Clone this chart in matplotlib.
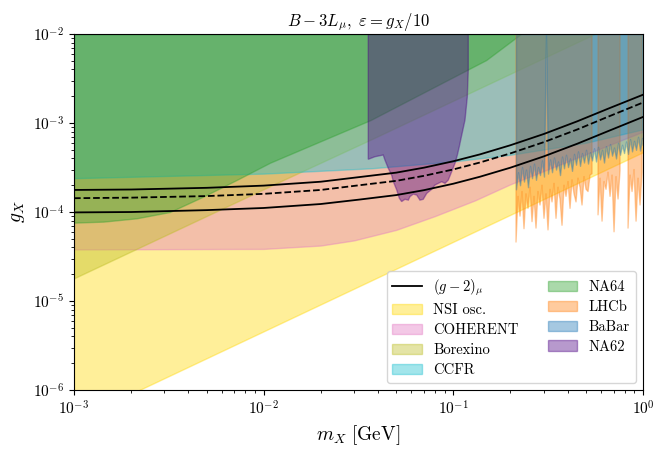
import numpy as np
import matplotlib
matplotlib.use('Agg')
import matplotlib.pyplot as plt
from matplotlib import ticker

plt.rcParams['mathtext.fontset'] = 'cm'
plt.rcParams['font.family'] = 'serif'
plt.rcParams['font.serif'] = ['cmr10', 'DejaVu Serif']
plt.rcParams['axes.formatter.use_mathtext'] = True

# (g-2)_mu preferred band
gm2_m = [1e-3, 2e-3, 5e-3, 0.01, 0.02, 0.032, 0.05, 0.07, 0.1, 0.138, 0.2, 0.3, 0.45, 0.65, 1.0]
gm2_hi = [1.77e-4, 1.79e-4, 1.87e-4, 1.98e-4, 2.19e-4, 2.47e-4, 2.77e-4, 3.15e-4, 3.72e-4,
          4.44e-4, 5.63e-4, 7.53e-4, 1.045e-3, 1.44e-3, 2.08e-3]
gm2_mid = [1.43e-4, 1.45e-4, 1.51e-4, 1.60e-4, 1.77e-4, 2.0e-4, 2.24e-4, 2.55e-4, 3.01e-4,
           3.6e-4, 4.56e-4, 6.1e-4, 8.46e-4, 1.17e-3, 1.7e-3]
gm2_lo = [0.99e-4, 1.0e-4, 1.05e-4, 1.11e-4, 1.23e-4, 1.38e-4, 1.55e-4, 1.76e-4, 2.08e-4,
          2.49e-4, 3.15e-4, 4.22e-4, 5.85e-4, 8.06e-4, 1.17e-3]

# lower edges of the excluded regions
nsi_m = [1e-3, 1.0]
nsi_g = [4.5e-7, 4.7e-4]

coh_m = [1e-3, 0.01, 0.02, 0.03, 0.05, 0.08, 0.13, 0.2, 0.35, 0.6, 1.0]
coh_g = [3.8e-5, 3.85e-5, 4.2e-5, 4.8e-5, 6.3e-5, 9.0e-5, 1.35e-4, 2.05e-4, 3.3e-4, 5.2e-4, 8.0e-4]

borex_m = [1e-3, 0.0108, 0.0366, 0.556]
borex_g = [1.8e-5, 1.95e-4, 6.5e-4, 1e-2]

ccfr_m = [1e-3, 0.01, 0.037, 0.1, 0.2, 0.5, 1.0]
ccfr_g = [2.4e-4, 2.7e-4, 3.1e-4, 3.7e-4, 4.4e-4, 6.0e-4, 8.5e-4]

na64_m = [1e-3, 1.43e-3, 2.14e-3, 3.2e-3, 4.8e-3, 7.2e-3, 0.0108, 0.0366, 0.149, 0.227]
na64_g = [7.6e-5, 7.8e-5, 8.5e-5, 1.0e-4, 1.49e-4, 2.29e-4, 3.58e-4, 1.08e-3, 5.1e-3, 1e-2]

# LHCb and BaBar share one mass grid
vis_m = [0.2140, 0.2193, 0.2247, 0.2302, 0.2358, 0.2416, 0.2476, 0.2537, 0.2599, 0.2663,
         0.2728, 0.2795, 0.2864, 0.2934, 0.3006, 0.3080, 0.3156, 0.3234, 0.3313, 0.3395,
         0.3478, 0.3564, 0.3651, 0.3741, 0.3833, 0.3927, 0.4024, 0.4123, 0.4224, 0.4328,
         0.4434, 0.4543, 0.4655, 0.4769, 0.4887, 0.5007, 0.5130, 0.5256, 0.5385, 0.5518,
         0.5653, 0.5792, 0.5935, 0.6081, 0.6230, 0.6383, 0.6540, 0.6701, 0.6866, 0.7034,
         0.7207, 0.7385, 0.7566, 0.7752, 0.7943, 0.8138, 0.8338, 0.8543, 0.8753, 0.8968,
         0.9189, 0.9415, 0.9646, 0.9883, 1.0]
nan = np.nan
lhcb_g = [4.6e-5, 1.5e-4, 9.0e-5, 1.7e-4, 6.5e-5, 1.6e-4, 1.1e-4, 1.9e-4, 7.8e-5, 1.5e-4,
          6.6e-5, 1.7e-4, 1.2e-4, 2.0e-4, 8.5e-5, 1.6e-4, 6.3e-5, 1.8e-4, 1.3e-4, 2.1e-4,
          8.5e-5, 1.9e-4, 1.4e-4, 7.1e-5, 2.0e-4, 1.5e-4, 2.2e-4, 1.1e-4, 2.3e-4, 1.6e-4,
          1.3e-4, 2.4e-4, 1.9e-4, 1.2e-4, 2.5e-4, 1.8e-4, 1.7e-4, 2.6e-4, 2.7e-4, nan,
          nan, 9.3e-5, 2.4e-4, 7.9e-5, 2.2e-4, 1.8e-4, 2.8e-4, 1.5e-4, 2.6e-4, 6.0e-5,
          2.5e-4, 1.4e-4, 2.9e-4, nan, nan, nan, 6.6e-5, 2.6e-4, 1.7e-4, 3.0e-4,
          7.9e-5, 2.4e-4, 1.2e-4, 2.8e-4, nan]
babar_g = [1.8e-4, 2.8e-4, 2.0e-4, 3.2e-4, 2.2e-4, 3.0e-4, 1.9e-4, 3.3e-4, 2.4e-4, 3.5e-4,
           2.3e-4, 3.2e-4, 2.6e-4, 3.8e-4, 2.5e-4, 1e-2, 2.7e-4, 3.9e-4, 2.8e-4, 4.1e-4,
           3.0e-4, 3.7e-4, 2.6e-4, 4.2e-4, 3.1e-4, 4.4e-4, 3.2e-4, 4.0e-4, 2.9e-4, 4.5e-4,
           3.4e-4, 4.8e-4, 3.3e-4, 4.6e-4, 3.6e-4, 5.0e-4, 3.5e-4, 4.7e-4, 3.8e-4, 5.2e-4,
           3.7e-4, 5.4e-4, 3.9e-4, 5.0e-4, 3.6e-4, 5.5e-4, 4.1e-4, 5.8e-4, 4.3e-4, 5.3e-4,
           4.0e-4, 6.0e-4, 4.4e-4, 5.7e-4, 4.6e-4, 6.2e-4, 4.5e-4, 6.6e-4, 4.8e-4, 6.3e-4,
           5.0e-4, 7.0e-4, 4.9e-4, 6.8e-4, 5.6e-4]

# NA62 outline (closed along the top)
na62_m = [0.0356, 0.0356, 0.0386, 0.0427, 0.0436, 0.0454, 0.0473, 0.0483, 0.0503, 0.0519,
          0.0534, 0.0556, 0.0579, 0.0591, 0.0615, 0.0641, 0.0667, 0.0694, 0.0724, 0.0769,
          0.0800, 0.0868, 0.0904, 0.0941, 0.0980, 0.102, 0.105, 0.1075, 0.1093, 0.1152,
          0.1185, 0.1199, 0.1199]
na62_g = [1e-2, 3.91e-4, 4.18e-4, 4.37e-4, 3.84e-4, 3.10e-4, 2.60e-4, 2.19e-4, 1.77e-4, 1.43e-4,
          1.31e-4, 1.39e-4, 1.36e-4, 1.49e-4, 1.59e-4, 1.55e-4, 1.36e-4, 1.39e-4, 1.62e-4, 1.80e-4,
          2.01e-4, 2.19e-4, 2.10e-4, 2.29e-4, 2.84e-4, 3.52e-4, 4.37e-4, 5.42e-4, 6.44e-4, 1.08e-3,
          1.97e-3, 3.94e-3, 1e-2]

gtop = 1e-2

fig = plt.figure(figsize=(6.64, 4.5), dpi=100)
ax = fig.add_axes([0.1114, 0.1333, 0.857, 0.7911])
ax.set_xscale('log')
ax.set_yscale('log')

a = 0.4
h_nsi = ax.fill_between(nsi_m, nsi_g, gtop, color='gold', alpha=a, label='NSI osc.')
h_coh = ax.fill_between(coh_m, coh_g, gtop, color='tab:pink', alpha=a, label='COHERENT')
h_bor = ax.fill_between(borex_m, borex_g, gtop, color='tab:olive', alpha=a, label='Borexino')
h_ccf = ax.fill_between(ccfr_m, ccfr_g, gtop, color='tab:cyan', alpha=a, label='CCFR')
h_na64 = ax.fill_between(na64_m, na64_g, gtop, color='tab:green', alpha=a, label='NA64')
h_lhcb = ax.fill_between(vis_m, lhcb_g, gtop, color='tab:orange', alpha=a, label='LHCb')
h_bab = ax.fill_between(vis_m, babar_g, gtop, color='tab:blue', alpha=a, label='BaBar')
h_na62 = ax.fill(na62_m, na62_g, color='indigo', alpha=a, lw=1.0, label='NA62')[0]

h_gm2, = ax.plot(gm2_m, gm2_hi, color='k', lw=1.3, label=r'$(g-2)_\mu$')
ax.plot(gm2_m, gm2_lo, color='k', lw=1.3)
ax.plot(gm2_m, gm2_mid, color='k', lw=1.3, ls='--')

ax.set_xlim(1e-3, 1)
ax.set_ylim(1e-6, 1e-2)

fmt = ticker.FuncFormatter(lambda v, p: r'$10^{%d}$' % int(round(np.log10(v))))
ax.xaxis.set_major_formatter(fmt)
ax.yaxis.set_major_formatter(fmt)
ax.xaxis.set_minor_formatter(ticker.NullFormatter())
ax.yaxis.set_minor_formatter(ticker.NullFormatter())
ax.tick_params(labelsize=11)

ax.set_xlabel(r'$m_X\ [\mathrm{GeV}]$', fontsize=14)
ax.set_ylabel(r'$g_X$', fontsize=14)
ax.set_title(r'$B-3L_\mu,\ \varepsilon=g_X/10$', fontsize=12)

handles = [h_gm2, h_nsi, h_coh, h_bor, h_ccf, h_na64, h_lhcb, h_bab, h_na62]
ax.legend(handles=handles, loc='lower right', ncol=2, fontsize=10.5, labelspacing=0.42)

fig.savefig('out.png', dpi=100)
